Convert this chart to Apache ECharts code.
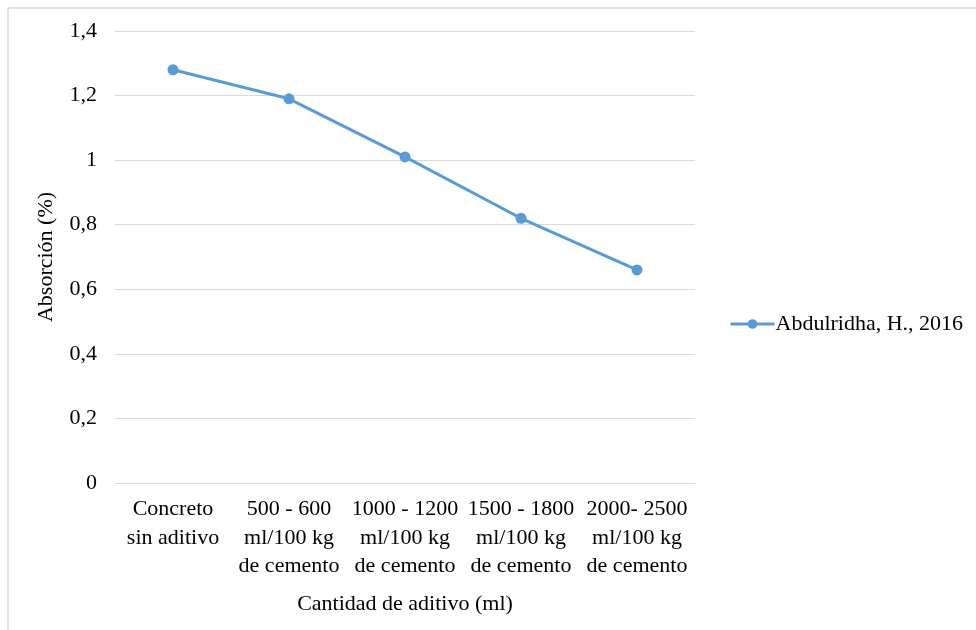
<!DOCTYPE html>
<html>
<head>
<meta charset="utf-8">
<script src="https://cdn.jsdelivr.net/npm/echarts@6/dist/echarts.min.js"></script>
<style>
  html, body { margin: 0; padding: 0; background: #ffffff; }
  #chart { width: 976px; height: 630px; }
</style>
</head>
<body>
<div id="chart"></div>
<script>
// Absorción del concreto según la cantidad de aditivo
const categories = [
  'Concreto\nsin aditivo',
  '500 - 600\nml/100 kg\nde cemento',
  '1000 - 1200\nml/100 kg\nde cemento',
  '1500 - 1800\nml/100 kg\nde cemento',
  '2000- 2500\nml/100 kg\nde cemento'
];
const seriesName = 'Abdulridha, H., 2016';
const absorcion = [1.28, 1.19, 1.01, 0.82, 0.66];
const yTicks = { min: 0, max: 1.4, interval: 0.2 };

const font = '"Liberation Serif", "Times New Roman", serif';
const chart = echarts.init(document.getElementById('chart'));

chart.setOption({
  animation: false,
  backgroundColor: '#ffffff',
  textStyle: { fontFamily: font },
  graphic: [{
    type: 'rect',
    shape: { x: 8, y: 8, width: 1000, height: 700 },
    style: { fill: 'none', stroke: '#d9d9d9', lineWidth: 1.5 },
    silent: true
  }],
  grid: { left: 115, right: 281, top: 31, bottom: 147 },
  legend: {
    data: [seriesName],
    orient: 'vertical',
    left: 724,
    top: 308,
    itemWidth: 44,
    itemHeight: 12,
    itemGap: 0,
    lineStyle: { width: 3 },
    textStyle: { fontFamily: font, fontSize: 22, color: '#000000', padding: [0, 0, 0, -4] }
  },
  xAxis: {
    type: 'category',
    data: categories,
    boundaryGap: true,
    name: 'Cantidad de aditivo (ml)',
    nameLocation: 'middle',
    nameGap: 110,
    nameTextStyle: { fontFamily: font, fontSize: 22, color: '#000000' },
    axisLine: { show: false },
    axisTick: { show: false },
    axisLabel: {
      interval: 0,
      margin: 12,
      fontFamily: font,
      fontSize: 22,
      lineHeight: 28.5,
      color: '#000000'
    }
  },
  yAxis: {
    type: 'value',
    min: yTicks.min,
    max: yTicks.max,
    interval: yTicks.interval,
    name: 'Absorción (%)',
    nameLocation: 'middle',
    nameGap: 58,
    nameRotate: 90,
    nameTextStyle: { fontFamily: font, fontSize: 22, color: '#000000' },
    axisLine: { show: false },
    axisTick: { show: false },
    splitLine: { lineStyle: { color: '#d9d9d9', width: 1 } },
    axisLabel: {
      margin: 18,
      fontFamily: font,
      fontSize: 22,
      color: '#000000',
      formatter: function (v) {
        return String(Math.round(v * 10) / 10).replace('.', ',');
      }
    }
  },
  series: [{
    name: seriesName,
    type: 'line',
    data: absorcion,
    symbol: 'circle',
    symbolSize: 11,
    lineStyle: { color: '#5b9bd5', width: 3 },
    itemStyle: { color: '#5b9bd5' }
  }]
});
</script>
</body>
</html>
